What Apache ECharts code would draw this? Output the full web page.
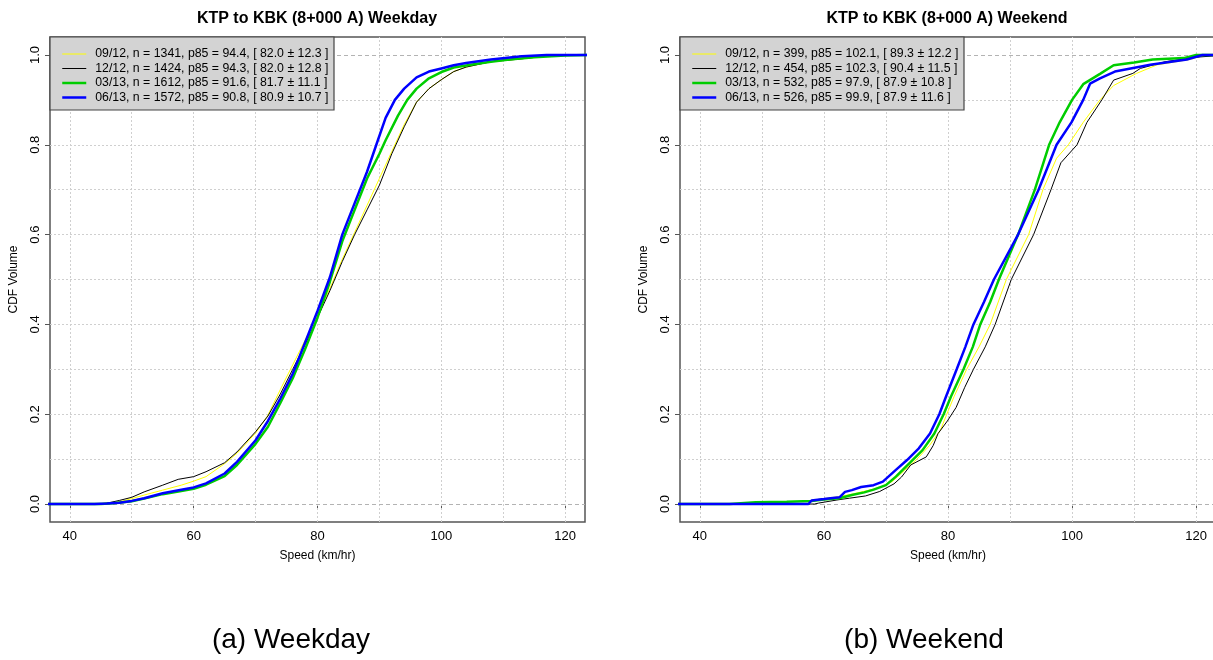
<!DOCTYPE html>
<html>
<head>
<meta charset="utf-8">
<script src="https://cdn.jsdelivr.net/npm/echarts@6/dist/echarts.min.js"></script>
<style>
  html, body { margin: 0; padding: 0; background: #fff; }
  #chart { width: 1213px; height: 660px; }
</style>
</head>
<body>
<div id="chart"></div>
<script>
// Survey periods, in drawing / legend order
const periods = ['09/12', '12/12', '03/13', '06/13'];

// Summary statistics per period
const weekdayN    = [1341, 1424, 1612, 1572];
const weekdayP85  = [94.4, 94.3, 91.6, 90.8];
const weekdayMean = [82.0, 82.0, 81.7, 80.9];
const weekdaySd   = [12.3, 12.8, 11.1, 10.7];

const weekendN    = [399, 454, 532, 526];
const weekendP85  = [102.1, 102.3, 97.9, 99.9];
const weekendMean = [89.3, 90.4, 87.9, 87.9];
const weekendSd   = [12.2, 11.5, 10.8, 11.6];

// Empirical CDFs: [speed km/hr, cumulative share]
const weekday0912 = [[30,0],[44,0],[46,0.001],[48,0.005],[50,0.012],[52,0.02],[55,0.031],[58,0.042],[60,0.051],[62,0.061],[65,0.09],[67,0.113],[70,0.158],[72,0.198],[74,0.255],[76,0.31],[78,0.365],[80,0.42],[82,0.48],[84,0.545],[86,0.605],[88,0.665],[90,0.725],[92,0.785],[94,0.845],[96,0.895],[98,0.925],[100,0.945],[102,0.963],[104,0.973],[106,0.979],[108,0.985],[112,0.99],[116,0.996],[120,0.999],[125,1]];
const weekday1212 = [[30,0],[44,0],[46,0.002],[48,0.008],[50,0.015],[52,0.027],[55,0.042],[57.5,0.055],[60,0.061],[62,0.072],[65,0.092],[67,0.116],[70,0.161],[72,0.196],[74,0.245],[76,0.3],[78,0.355],[80,0.415],[82,0.475],[84,0.54],[86,0.6],[88,0.655],[90,0.71],[92,0.78],[94,0.84],[96,0.895],[98,0.925],[100,0.945],[102,0.963],[104,0.973],[106,0.979],[108,0.985],[112,0.99],[116,0.996],[120,0.999],[125,1]];
const weekday0313 = [[30,0],[45,0],[47,0.002],[50,0.006],[52,0.012],[55,0.022],[58,0.029],[60,0.034],[62,0.043],[65,0.062],[67,0.087],[70,0.134],[72,0.172],[74,0.225],[76,0.28],[78,0.345],[80,0.415],[82,0.495],[84,0.585],[86,0.655],[88,0.725],[90,0.78],[91,0.81],[93,0.865],[94.5,0.9],[96,0.925],[98,0.948],[100,0.962],[102,0.972],[105,0.979],[108,0.985],[111,0.99],[115,0.995],[120,0.999],[125,1]];
const weekday0613 = [[30,0],[44,0],[46,0.001],[48,0.003],[50,0.007],[52,0.013],[55,0.024],[58,0.032],[60,0.037],[62,0.046],[65,0.068],[67,0.094],[70,0.142],[72,0.185],[74,0.235],[76,0.29],[78,0.36],[80,0.43],[82,0.505],[84,0.6],[86,0.67],[88,0.74],[89.5,0.8],[91,0.86],[92.5,0.9],[94,0.925],[96,0.95],[98,0.963],[100,0.97],[102,0.977],[104,0.982],[108,0.99],[113,0.997],[117,1],[125,1]];

const weekend0912 = [[30,0],[46,0],[48,0.003],[55,0.005],[58,0.008],[60,0.012],[62.2,0.016],[64.5,0.022],[67,0.03],[69,0.037],[71,0.05],[73,0.075],[75,0.1],[77,0.13],[78.8,0.165],[79.8,0.2],[81,0.24],[83,0.3],[85,0.35],[86.8,0.4],[89.4,0.5],[91.2,0.55],[93,0.6],[95.3,0.7],[97.5,0.77],[99.4,0.8],[101.8,0.85],[104.5,0.9],[106.7,0.932],[110.4,0.959],[113.7,0.978],[119,0.99],[121,0.998],[125,1]];
const weekend1212 = [[30,0],[58.5,0],[59.1,0.002],[62.1,0.009],[64.1,0.013],[66.7,0.018],[69,0.028],[71.3,0.045],[72.5,0.06],[74,0.087],[76.5,0.105],[77.6,0.13],[78.4,0.157],[79.9,0.185],[81.3,0.215],[82.7,0.26],[84.1,0.3],[86,0.35],[87.6,0.4],[90.2,0.5],[92,0.55],[93.8,0.6],[96.6,0.7],[98.2,0.76],[100.8,0.8],[102.4,0.85],[104.8,0.9],[106.7,0.944],[109.8,0.959],[111,0.97],[115,0.985],[120,0.995],[125,1]];
const weekend0313 = [[30,0],[44.8,0],[45,0.002],[49,0.004],[54,0.005],[58,0.007],[60,0.01],[62.5,0.013],[64.5,0.02],[66.5,0.026],[68,0.032],[70,0.042],[71.6,0.061],[74,0.094],[75.9,0.12],[77.8,0.157],[79.3,0.2],[80.5,0.24],[82.5,0.3],[84,0.35],[85.2,0.4],[86.8,0.45],[88.2,0.5],[91.3,0.6],[94,0.7],[96.3,0.8],[98,0.85],[100,0.9],[101.8,0.935],[104.5,0.958],[106.7,0.977],[110,0.983],[113,0.99],[118,0.993],[120,1],[125,1]];
const weekend0613 = [[30,0],[57.5,0],[58,0.008],[60,0.011],[62.5,0.015],[63.4,0.027],[64.5,0.031],[66,0.038],[68,0.042],[69.5,0.05],[71.6,0.076],[73.4,0.098],[75.3,0.124],[77.1,0.157],[78.6,0.2],[79.7,0.24],[81.4,0.3],[82.8,0.35],[84.1,0.4],[85.8,0.45],[87.4,0.5],[91.3,0.6],[94.6,0.7],[97.5,0.8],[99.9,0.85],[101.8,0.9],[102.9,0.936],[104.5,0.948],[106.9,0.963],[112.6,0.978],[118.5,0.99],[121,1],[125,1]];

const weekdayCurves = [weekday0912, weekday1212, weekday0313, weekday0613];
const weekendCurves = [weekend0912, weekend1212, weekend0313, weekend0613];

// Axis ticks, grid lines and reference lines
const xTicks = [40, 60, 80, 100, 120];
const yTicks = [0, 0.2, 0.4, 0.6, 0.8, 1.0];
const xGrid  = [40, 50, 60, 70, 80, 90, 100, 110, 120];
const yGrid  = [0.1, 0.2, 0.3, 0.4, 0.5, 0.6, 0.7, 0.8, 0.9];
const yRefs  = [0, 1];

const titles   = ['KTP to KBK (8+000 A) Weekday', 'KTP to KBK (8+000 A) Weekend'];
const captions = ['(a) Weekday', '(b) Weekend'];

// ---- styling ----
const FONT = 'Liberation Sans, Arial, Helvetica, sans-serif';
const lineStyles = [
  { color: '#ffff00', width: 1 },
  { color: '#000000', width: 1 },
  { color: '#00cd00', width: 2.5 },
  { color: '#0000ff', width: 2.5 }
];
const panels = [
  { left: 50,  width: 535, titleX: 317, captionX: 291 },
  { left: 680, width: 536, titleX: 947, captionX: 924 }
];
const PLOT_TOP = 37, PLOT_H = 485;

function legendText(i, n, p85, mean, sd) {
  return periods[i] + ', n = ' + n[i] + ', p85 = ' + p85[i].toFixed(1) +
    ', [ ' + mean[i].toFixed(1) + ' \u00b1 ' + sd[i].toFixed(1) + ' ]';
}
const weekdayNames = periods.map((_, i) => legendText(i, weekdayN, weekdayP85, weekdayMean, weekdaySd));
const weekendNames = periods.map((_, i) => legendText(i, weekendN, weekendP85, weekendMean, weekendSd));
const panelData = [
  { names: weekdayNames, curves: weekdayCurves },
  { names: weekendNames, curves: weekendCurves }
];

const grids = [], xAxes = [], yAxes = [], series = [], legends = [], graphics = [], titleList = [];

panels.forEach((p, k) => {
  grids.push({
    left: p.left, top: PLOT_TOP, width: p.width, height: PLOT_H,
    show: true, borderColor: '#555', borderWidth: 1.5, backgroundColor: 'transparent',
    containLabel: false, outerBoundsMode: 'none'
  });
  xAxes.push({
    gridIndex: k, type: 'value', min: 36.8, max: 123.2,
    axisLine: { show: false },
    splitLine: { show: false },
    axisTick: { show: true, length: 5, customValues: xTicks, lineStyle: { color: '#555', width: 1 } },
    axisLabel: { customValues: xTicks, margin: 8, fontSize: 13, color: '#000', fontFamily: FONT },
    name: 'Speed (km/hr)', nameLocation: 'middle', nameGap: 28,
    nameTextStyle: { fontSize: 12, color: '#000', fontFamily: FONT }
  });
  yAxes.push({
    gridIndex: k, type: 'value', min: -0.04, max: 1.04,
    axisLine: { show: false },
    splitLine: { show: false },
    axisTick: { show: true, length: 5, customValues: yTicks, lineStyle: { color: '#555', width: 1 } },
    axisLabel: {
      customValues: yTicks, rotate: 90, margin: 8, fontSize: 13, color: '#000', fontFamily: FONT,
      formatter: v => Number(v).toFixed(1)
    },
    name: 'CDF Volume', nameLocation: 'middle', nameRotate: 90, nameGap: 30,
    nameTextStyle: { fontSize: 12, color: '#000', fontFamily: FONT }
  });

  // dotted background grid and dashed 0 / 1 reference lines
  const gridLineStyle = { type: [2, 2], color: '#cfcfcf', width: 1 };
  const refLineStyle = { type: [4, 3], color: '#b3b3b3', width: 1 };
  series.push({
    type: 'line', xAxisIndex: k, yAxisIndex: k, data: [], silent: true, z: 1,
    markLine: {
      silent: true, symbol: 'none', z: 1, animation: false,
      label: { show: false },
      emphasis: { disabled: true },
      data: [
        ...xGrid.map(v => ({ xAxis: v, lineStyle: gridLineStyle })),
        ...yGrid.map(v => ({ yAxis: v, lineStyle: gridLineStyle })),
        ...yRefs.map(v => ({ yAxis: v, lineStyle: refLineStyle }))
      ]
    }
  });

  const d = panelData[k];
  d.curves.forEach((curve, i) => {
    series.push({
      name: d.names[i], type: 'line', xAxisIndex: k, yAxisIndex: k,
      data: curve, showSymbol: false, symbol: 'none', z: 3 + i,
      lineStyle: { color: lineStyles[i].color, width: lineStyles[i].width },
      itemStyle: { color: lineStyles[i].color },
      emphasis: { disabled: true }
    });
  });

  graphics.push({
    type: 'rect', z: 10, silent: true,
    shape: { x: p.left, y: PLOT_TOP, width: 284, height: 73 },
    style: { fill: '#d3d3d3', stroke: '#444', lineWidth: 1.2 }
  });

  // legend keys are plain line segments (symbol hidden), same widths as the curves
  legends.push({
    data: d.names.map((name, i) => ({
      name: name,
      lineStyle: { color: lineStyles[i].color, width: lineStyles[i].width }
    })),
    orient: 'vertical', left: p.left + 11, top: PLOT_TOP + 10,
    itemWidth: 24, itemHeight: 14, itemGap: 0.5, padding: 0, z: 20,
    selectedMode: false,
    itemStyle: { opacity: 0 },
    textStyle: { fontSize: 12.3, color: '#000', fontFamily: FONT, padding: [0, 0, 0, 4], lineHeight: 14 }
  });

  titleList.push({
    text: titles[k], left: p.titleX, top: 11, textAlign: 'center', padding: 0,
    textStyle: { fontSize: 16, fontWeight: 'bold', color: '#000', fontFamily: FONT }
  });
  titleList.push({
    text: captions[k], left: p.captionX, top: 626, textAlign: 'center', padding: 0,
    textStyle: { fontSize: 28, fontWeight: 'normal', color: '#000', fontFamily: FONT }
  });
});

const chart = echarts.init(document.getElementById('chart'), null, { renderer: 'canvas' });
chart.setOption({
  animation: false,
  backgroundColor: '#fff',
  textStyle: { fontFamily: FONT },
  title: titleList,
  grid: grids,
  xAxis: xAxes,
  yAxis: yAxes,
  legend: legends,
  graphic: graphics,
  series: series
});
</script>
</body>
</html>
